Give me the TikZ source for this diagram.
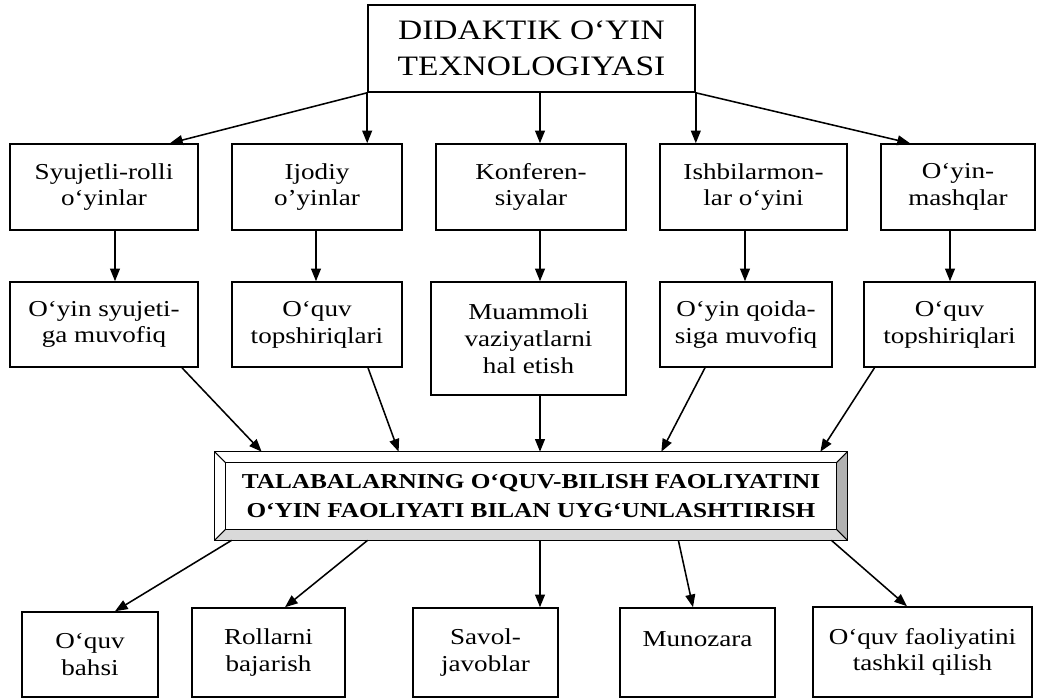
\documentclass[tikz,border=0pt]{standalone}
\usepackage{fontspec}
\setmainfont{Liberation Serif}[FakeStretch=1.19]
\usepackage{tikz}
\usetikzlibrary{positioning, arrows.meta, calc}

\begin{document}
\begin{tikzpicture}[x=0.025cm, y=-0.025cm]

	% Styles
	\tikzset{
		box/.style={
			rectangle, draw, line width=1.1pt,
			align=center, inner sep=2pt, font=\fontsize{16.2}{19}\selectfont
		},
		head/.style={box, font=\fontsize{20}{25.5}\selectfont},
		goalbox/.style={
			rectangle, minimum width=15.8cm, minimum height=2.2cm,
			align=center, font=\bfseries\fontsize{15.1}{20}\selectfont
		},
		arrow/.style={line width=1.1pt, -{Triangle[length=9pt, width=7pt]}}
	}

	\useasboundingbox (0,0) rectangle (1041,699);

	% Columns of the vertical arrows
	\coordinate (col1) at (115,0);
	\coordinate (col2) at (316,0);
	\coordinate (midcol) at (540,0);
	\coordinate (col4) at (745,0);
	\coordinate (col5) at (950,0);

	% Head
	\node (top) [head, minimum width=8.175cm, minimum height=2.175cm] at (531.5,48.5) {DIDAKTIK O‘YIN\\TEXNOLOGIYASI};

	% Kinds of games
	\node (r1a) [box, minimum width=4.7cm, minimum height=2.15cm] at (104,187) {Syujetli-rolli\\o‘yinlar};
	\node (r1b) [box, minimum width=4.25cm, minimum height=2.15cm] at (317,187) {Ijodiy\\o’yinlar};
	\node (r1c) [box, minimum width=4.75cm, minimum height=2.15cm] at (531,187) {Konferen-\\siyalar};
	\node (r1d) [box, minimum width=4.675cm, minimum height=2.15cm] at (753.5,187) {Ishbilarmon-\\lar o‘yini};
	\node (r1e) [box, minimum width=3.85cm, minimum height=2.15cm] at (958,187) {O‘yin-\\mashqlar};

	% What they follow
	\node (r2a) [box, minimum width=4.7cm, minimum height=2.125cm] at (104,324.5) {O‘yin syujeti-\\ga muvofiq};
	\node (r2b) [box, minimum width=4.25cm, minimum height=2.125cm] at (317,324.5) {O‘quv\\topshiriqlari};
	\node (r2c) [box, minimum width=4.875cm, minimum height=2.825cm] at (528.5,338.5) {Muammoli\\vaziyatlarni\\hal etish};
	\node (r2d) [box, minimum width=4.3cm, minimum height=2.125cm] at (746,324.5) {O‘yin qoida-\\siga muvofiq};
	\node (r2e) [box, minimum width=4.275cm, minimum height=2.125cm] at (949.5,324.5) {O‘quv\\topshiriqlari};

	% Goal
	\node (goal) [goalbox] at (531,496) {TALABALARNING O‘QUV-BILISH FAOLIYATINI\\O‘YIN FAOLIYATI BILAN UYG‘UNLASHTIRISH};
	\fill[gray!60] (goal.north east) -- (goal.south east) -- ($(goal.south east)+(-11,-11)$) -- ($(goal.north east)+(-11,11)$) -- cycle;
	\fill[gray!30] (goal.south west) -- (goal.south east) -- ($(goal.south east)+(-11,-11)$) -- ($(goal.south west)+(11,-11)$) -- cycle;
	\draw[line width=1.1pt] (goal.north west) rectangle (goal.south east);
	\draw[line width=0.7pt] ($(goal.north west)+(11,11)$) rectangle ($(goal.south east)+(-11,-11)$);
	\draw[line width=0.7pt] (goal.north west) -- ++(11,11);
	\draw[line width=0.7pt] (goal.north east) -- ++(-11,11);
	\draw[line width=0.7pt] (goal.south west) -- ++(11,-11);
	\draw[line width=0.7pt] (goal.south east) -- ++(-11,-11);

	% Forms of work
	\node (b1) [box, minimum width=3.4cm, minimum height=2.125cm] at (90,654.5) {O‘quv\\bahsi};
	\node (b2) [box, minimum width=3.825cm, minimum height=2.225cm] at (268.5,652.5) {Rollarni\\bajarish};
	\node (b3) [box, minimum width=3.625cm, minimum height=2.225cm] at (485.5,652.5) {Savol-\\javoblar};
	\node (b4) [box, minimum width=3.875cm, minimum height=2.225cm] at (697.5,652.5) {Munozara\\\mbox{}};
	\node (b5) [box, minimum width=5.475cm, minimum height=2.25cm] at (922.5,652) {O‘quv faoliyatini\\tashkil qilish};

	% Arrows: Head to kinds
	\draw[arrow] (top.south west) -- ($(r1a.north)+(66,0)$);
	\draw[arrow] (top.south west) -- (top.south west |- r1b.north);
	\draw[arrow] (top.south -| midcol) -- (r1c.north -| midcol);
	\draw[arrow] (top.south east) -- (top.south east |- r1d.north);
	\draw[arrow] (top.south east) -- ($(r1e.north)+(-48,0)$);

	% Arrows: Kinds to second row
	\draw[arrow] (r1a.south -| col1) -- (r2a.north -| col1);
	\draw[arrow] (r1b.south -| col2) -- (r2b.north -| col2);
	\draw[arrow] (r1c.south -| midcol) -- (r2c.north -| midcol);
	\draw[arrow] (r1d.south -| col4) -- (r2d.north -| col4);
	\draw[arrow] (r1e.south -| col5) -- (r2e.north -| col5);

	% Arrows: Second row to goal
	\draw[arrow] ($(r2a.south)+(78,0)$) -- ($(goal.north west)+(47,0)$);
	\draw[arrow] ($(r2b.south)+(51,0)$) -- ($(goal.north west)+(184,0)$);
	\draw[arrow] (r2c.south -| midcol) -- (goal.north -| midcol);
	\draw[arrow] ($(r2d.south)+(-41,0)$) -- ($(goal.north east)+(-186,0)$);
	\draw[arrow] ($(r2e.south)+(-75,0)$) -- ($(goal.north east)+(-27,0)$);

	% Arrows: Goal to forms of work
	\draw[arrow] ($(goal.south west)+(17,0)$) -- ($(b1.north)+(25,0)$);
	\draw[arrow] ($(goal.south west)+(153,0)$) -- ($(b2.north)+(16.5,0)$);
	\draw[arrow] (goal.south -| midcol) -- (b3.north -| midcol);
	\draw[arrow] ($(goal.south east)+(-169,0)$) -- ($(b4.north)+(-4.5,0)$);
	\draw[arrow] ($(goal.south east)+(-16,0)$) -- ($(b5.north)+(-15.5,0)$);

\end{tikzpicture}
\end{document}
